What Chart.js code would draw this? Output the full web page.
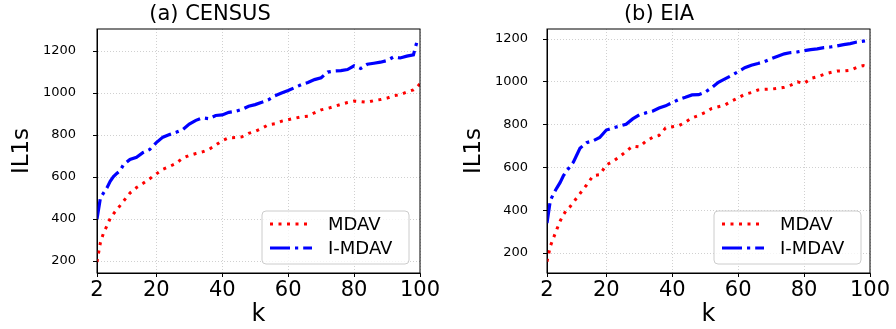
<!DOCTYPE html>
<html>
<head>
<meta charset="UTF-8">
<script src="https://cdn.jsdelivr.net/npm/chart.js"></script>
<style>
  body { margin: 0; background: #fff; }
  .panel { position: absolute; top: 0; width: 448px; height: 329px; }
</style>
</head>
<body>
<div class="panel" style="left:0"><canvas id="census" width="448" height="329"></canvas></div>
<div class="panel" style="left:448px"><canvas id="eia" width="448" height="329"></canvas></div>
<script>
// valores de k
const kValues = [2,3,4,5,6,7,8,9,10,12,14,16,18,20,22,24,26,28,30,32,34,36,38,40,42,44,46,48,50,
  52,54,56,58,60,62,64,66,68,70,72,74,76,78,80,82,84,86,88,90,92,94,96,98,99,100];

// (a) CENSUS
const censusMdav = [196,285,335,367,403,425,445,464,484,524,550,570,592,615,637,650,665,690,703,712,720,732,752,773,787,
  788,792,808,818,832,849,854,866,873,880,887,890,906,920,927,936,946,955,962,959,956,964,969,976,987,992,1005,1015,1025,1045];
const censusImdav = [400,497,525,548,580,602,617,630,658,684,694,717,731,764,790,802,813,826,852,870,882,878,893,896,908,
  913,922,937,945,956,968,987,1000,1012,1026,1040,1050,1064,1073,1100,1105,1107,1112,1130,1117,1137,1142,1147,1155,1172,1167,1176,1182,1240,1252];

// (b) EIA
const eiaMdav = [160,232,272,312,350,380,403,417,437,478,518,562,566,612,628,650,675,700,696,722,740,750,785,790,795,
  812,832,843,857,876,884,892,910,925,942,950,962,965,966,970,975,985,1000,992,1016,1024,1035,1044,1051,1051,1054,1068,1076,1072,1068];
const eiaImdav = [340,445,478,505,530,562,585,605,625,690,716,725,740,775,785,793,802,827,846,855,863,878,888,903,918,
  928,939,940,952,973,998,1014,1030,1048,1066,1078,1086,1095,1108,1120,1131,1137,1140,1146,1151,1154,1160,1163,1168,1174,1179,1186,1190,1192,1194];

const xTicks = [2,20,40,60,80,100];
const yTicks = [200,400,600,800,1000,1200];
const seriesNames = ['MDAV', 'I-MDAV'];

const FONT = "'DejaVu Sans', sans-serif";
const estilos = [
  { color: '#ff0000', width: 3, dash: [3, 5.5] },
  { color: '#0000ff', width: 3.2, dash: [20, 5, 3.2, 5] }
];

// marco y leyenda dibujados a mano
const marcoLeyenda = {
  id: 'marcoLeyenda',
  afterDraw(chart) {
    const { ctx, chartArea: a } = chart;
    ctx.save();
    ctx.strokeStyle = '#000';
    ctx.lineWidth = 1;
    ctx.strokeRect(a.left, a.top, a.right - a.left, a.bottom - a.top);

    const inset = chart.options.plugins.marcoLeyenda.inset;
    const w = 147, h = 53;
    const x0 = a.right - inset - w, y0 = a.bottom - 9 - h;
    ctx.beginPath();
    ctx.roundRect(x0, y0, w, h, 4);
    ctx.fillStyle = 'rgba(255,255,255,0.8)';
    ctx.fill();
    ctx.strokeStyle = '#cccccc';
    ctx.stroke();

    ctx.font = '18px ' + FONT;
    ctx.textBaseline = 'middle';
    seriesNames.forEach((nombre, i) => {
      const y = y0 + 13 + i * 24;
      const st = estilos[i];
      ctx.beginPath();
      ctx.setLineDash(st.dash);
      ctx.strokeStyle = st.color;
      ctx.lineWidth = st.width;
      ctx.moveTo(x0 + 8, y);
      ctx.lineTo(x0 + 50, y);
      ctx.stroke();
      ctx.setLineDash([]);
      ctx.fillStyle = '#000';
      ctx.fillText(nombre, x0 + 66, y + 1);
    });
    ctx.restore();
  }
};

function crearGrafico(id, titulo, mdav, imdav, cfg) {
  const puntos = arr => kValues.map((k, i) => ({ x: k, y: arr[i] }));
  new Chart(document.getElementById(id), {
    type: 'line',
    data: {
      datasets: [mdav, imdav].map((arr, i) => ({
        label: seriesNames[i],
        data: puntos(arr),
        borderColor: estilos[i].color,
        borderWidth: estilos[i].width,
        borderDash: estilos[i].dash,
        pointRadius: 0,
        tension: 0,
        fill: false
      }))
    },
    options: {
      responsive: false,
      animation: false,
      layout: { padding: { left: 0, right: cfg.rightPad, top: 0, bottom: 0 } },
      plugins: {
        legend: { display: false },
        tooltip: { enabled: false },
        title: {
          display: true,
          text: titulo,
          color: '#000',
          font: { family: FONT, size: 21, weight: 'normal', lineHeight: 1.1 },
          padding: { top: 3, bottom: 2.9 }
        },
        marcoLeyenda: { inset: cfg.legendInset }
      },
      scales: {
        x: {
          type: 'linear',
          min: 2,
          max: 100,
          afterBuildTicks: s => { s.ticks = xTicks.map(v => ({ value: v })); },
          afterFit: s => { s.height = 56; },
          ticks: { color: '#000', font: { family: FONT, size: 21 }, padding: 1, maxRotation: 0, callback: v => String(v) },
          grid: { color: '#c4c4c4', lineWidth: 0.8, tickColor: '#000', tickLength: 4, tickWidth: 1 },
          border: { color: '#000', width: 1, dash: [1, 2] },
          title: { display: true, text: 'k', color: '#000', font: { family: FONT, size: 24 }, padding: { top: 0, bottom: 0 } }
        },
        y: {
          min: cfg.yMin,
          max: cfg.yMax,
          afterBuildTicks: s => { s.ticks = yTicks.map(v => ({ value: v })); },
          afterFit: s => { s.width = cfg.axisWidth; },
          ticks: { color: '#000', font: { family: FONT, size: 13 }, padding: cfg.tickPad, callback: v => String(v) },
          grid: { color: '#c4c4c4', lineWidth: 0.8, tickColor: '#000', tickLength: 4, tickWidth: 1 },
          border: { color: '#000', width: 1, dash: [1, 2] },
          title: { display: true, text: 'IL1s', color: '#000', font: { family: FONT, size: 23 }, padding: { top: cfg.titlePad, bottom: 0 } }
        }
      }
    },
    plugins: [marcoLeyenda]
  });
}

crearGrafico('census', '(a) CENSUS', censusMdav, censusImdav,
  { yMin: 143, yMax: 1305, axisWidth: 97, rightPad: 28, tickPad: 17, titlePad: 8, legendInset: 11 });
crearGrafico('eia', '(b) EIA', eiaMdav, eiaImdav,
  { yMin: 107, yMax: 1247, axisWidth: 99, rightPad: 26, tickPad: 15, titlePad: 12, legendInset: 9 });
</script>
</body>
</html>
